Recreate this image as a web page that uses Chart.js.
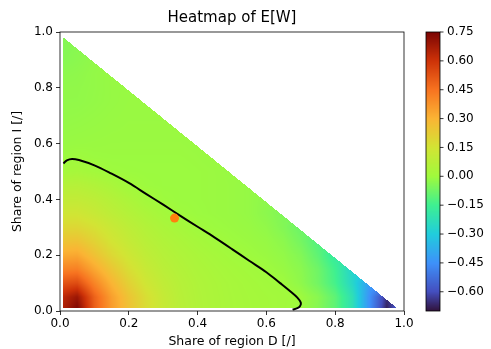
<!DOCTYPE html>
<html><head><meta charset="utf-8">
<script src="https://cdn.jsdelivr.net/npm/chart.js@4.4.0/dist/chart.umd.min.js"></script>
<style>html,body{margin:0;padding:0;background:#fff;}canvas{display:block;}</style>
</head><body>
<canvas id="c" width="491" height="349"></canvas>
<script>
// ---- data ----
const axisTicks = [0.0, 0.2, 0.4, 0.6, 0.8, 1.0];
const cbTicks = [-0.60, -0.45, -0.30, -0.15, 0.00, 0.15, 0.30, 0.45, 0.60, 0.75];
const cbMin = -0.70, cbMax = 0.75;
const domainCorners = [[0.01, 0.01], [0.98, 0.01], [0.01, 0.98]];
const gridX = [0.00,0.05,0.10,0.15,0.20,0.25,0.30,0.35,0.40,0.45,0.50,0.55,0.60,0.65,0.70,0.75,0.80,0.85,0.90,0.95,1.00];
const gridY = [0.00,0.05,0.10,0.15,0.20,0.25,0.30,0.35,0.40,0.45,0.50,0.55,0.60,0.65,0.70,0.75,0.80,0.85,0.90,0.95,1.00];
// E[W] values read along rows of constant I share (x = D share from 0 upward)
const ewY00 = [0.64,0.75,0.50,0.36,0.26,0.175,0.115,0.075,0.05,0.035,0.025,0.018,0.012,0.005,-0.006,-0.04,-0.10,-0.22,-0.45,-0.68,-0.45];
const ewY05 = [0.62,0.69,0.49,0.35,0.25,0.17,0.11,0.07,0.048,0.034,0.024,0.017,0.011,0.006,-0.002,-0.035,-0.10,-0.22,-0.45,-0.65];
const ewY10 = [0.52,0.54,0.41,0.30,0.21,0.14,0.095,0.065,0.045,0.032,0.022,0.014,0.006,-0.002,-0.025,-0.07,-0.14,-0.26,-0.42];
const ewY15 = [0.41,0.42,0.33,0.245,0.17,0.115,0.078,0.055,0.038,0.026,0.016,0.007,-0.002,-0.012,-0.032,-0.075,-0.15,-0.27];
const ewY20 = [0.32,0.33,0.26,0.19,0.135,0.092,0.064,0.045,0.03,0.018,0.006,-0.003,-0.009,-0.02,-0.045,-0.10,-0.18];
const ewY25 = [0.25,0.255,0.205,0.15,0.107,0.073,0.05,0.033,0.018,0.004,-0.004,-0.008,-0.014,-0.03,-0.065,-0.12];
const ewY30 = [0.19,0.19,0.16,0.12,0.085,0.056,0.034,0.018,0.0,-0.005,-0.008,-0.012,-0.022,-0.045,-0.08];
const ewY35 = [0.14,0.14,0.115,0.085,0.058,0.034,0.014,-0.002,-0.006,-0.008,-0.01,-0.016,-0.03,-0.05];
const ewY40 = [0.10,0.10,0.085,0.06,0.035,0.01,-0.003,-0.006,-0.007,-0.008,-0.01,-0.016,-0.028];
const ewY45 = [0.062,0.065,0.05,0.03,0.004,-0.004,-0.006,-0.006,-0.007,-0.008,-0.01,-0.016];
const ewY50 = [0.012,0.02,0.008,-0.003,-0.005,-0.006,-0.006,-0.006,-0.007,-0.008,-0.011];
const ewY55 = [-0.006,-0.002,-0.006,-0.007,-0.007,-0.007,-0.007,-0.007,-0.008,-0.01];
const ewY60 = [-0.012,-0.01,-0.009,-0.008,-0.008,-0.008,-0.008,-0.008,-0.009];
const ewY65 = [-0.016,-0.014,-0.012,-0.01,-0.009,-0.009,-0.009,-0.009];
const ewY70 = [-0.02,-0.018,-0.015,-0.012,-0.01,-0.01,-0.01];
const ewY75 = [-0.022,-0.022,-0.018,-0.014,-0.011,-0.011];
const ewY80 = [-0.024,-0.023,-0.019,-0.014,-0.012];
const ewY85 = [-0.03,-0.026,-0.019,-0.014];
const ewY90 = [-0.04,-0.032,-0.022];
const ewY95 = [-0.045,-0.036];
const ewY100 = [-0.04];
const ewGrid = [ewY00,ewY05,ewY10,ewY15,ewY20,ewY25,ewY30,ewY35,ewY40,ewY45,ewY50,ewY55,ewY60,ewY65,ewY70,ewY75,ewY80,ewY85,ewY90,ewY95,ewY100];
// zero contour (black line)
const contourX = [0.01,0.02,0.035,0.055,0.10,0.15,0.20,0.25,0.30,0.35,0.40,0.45,0.50,0.55,0.60,0.64,0.67,0.69,0.70,0.698,0.69,0.676];
const contourY = [0.529,0.540,0.545,0.541,0.522,0.492,0.459,0.420,0.381,0.341,0.302,0.263,0.222,0.180,0.139,0.100,0.070,0.048,0.030,0.018,0.010,0.005];
// equal-share marker
const markerX = [0.333];
const markerY = [0.333];

// ---- colour map (turbo-like, stops in normalised 0..1) ----
const cmapStops = [
  [0.000, [48, 18, 59]], [0.069, [68, 78, 190]], [0.172, [62, 145, 250]],
  [0.276, [32, 205, 220]], [0.379, [62, 240, 145]], [0.483, [160, 250, 60]],
  [0.586, [210, 228, 52]], [0.690, [250, 180, 52]], [0.793, [247, 115, 32]],
  [0.897, [205, 50, 8]], [1.000, [122, 4, 3]]
];
function cmap(t) {
  t = Math.min(1, Math.max(0, t));
  for (let k = 1; k < cmapStops.length; k++) {
    const [t1, c1] = cmapStops[k];
    if (t <= t1) {
      const [t0, c0] = cmapStops[k - 1];
      const f = (t - t0) / (t1 - t0);
      return [0, 1, 2].map(i => Math.round(c0[i] + f * (c1[i] - c0[i])));
    }
  }
  return cmapStops[cmapStops.length - 1][1];
}
function gridVal(i, j) { const row = ewGrid[j]; return row[Math.min(i, row.length - 1)]; }
function valueAt(x, y) {
  const dx = gridX[1] - gridX[0], dy = gridY[1] - gridY[0];
  const fx = (x - gridX[0]) / dx, fy = (y - gridY[0]) / dy;
  const i0 = Math.min(gridX.length - 2, Math.max(0, Math.floor(fx)));
  const j0 = Math.min(gridY.length - 2, Math.max(0, Math.floor(fy)));
  const tx = fx - i0, ty = fy - j0;
  return (1-tx)*(1-ty)*gridVal(i0,j0) + tx*(1-ty)*gridVal(i0+1,j0) + (1-tx)*ty*gridVal(i0,j0+1) + tx*ty*gridVal(i0+1,j0+1);
}
const xMinD = domainCorners[0][0], yMinD = domainCorners[0][1], sumMax = domainCorners[1][0] + domainCorners[1][1];

const heatmapPlugin = {
  id: 'heatmap',
  beforeDatasetsDraw(chart) {
    const {ctx, chartArea: a, scales} = chart;
    const xs = scales.x, ys = scales.y;
    const L = Math.floor(a.left), T = Math.floor(a.top);
    const W = Math.ceil(a.right) - L, H = Math.ceil(a.bottom) - T;
    const off = document.createElement('canvas'); off.width = W; off.height = H;
    const octx = off.getContext('2d'); const img = octx.createImageData(W, H);
    for (let py = 0; py < H; py++) {
      const y = ys.getValueForPixel(T + py + 0.5);
      for (let px = 0; px < W; px++) {
        const x = xs.getValueForPixel(L + px + 0.5);
        if (x < xMinD || y < yMinD || x + y > sumMax) continue;
        const v = valueAt(x, y);
        const c = cmap((v - cbMin) / (cbMax - cbMin));
        const k = (py * W + px) * 4;
        img.data[k] = c[0]; img.data[k+1] = c[1]; img.data[k+2] = c[2]; img.data[k+3] = 255;
      }
    }
    octx.putImageData(img, 0, 0);
    ctx.drawImage(off, L, T);
  },
  afterDatasetsDraw(chart) {
    const {ctx, chartArea: a} = chart;
    ctx.save();
    ctx.strokeStyle = '#000'; ctx.lineWidth = 0.8;
    ctx.strokeRect(a.left, a.top, a.right - a.left, a.bottom - a.top);
    ctx.restore();
  },
  afterDraw(chart) {
    const {ctx, chartArea: a} = chart;
    const cb = chart.scales.cb;
    const left = a.right + 22, w = 14;
    const top = Math.round(cb.getPixelForValue(cbMax)), bottom = Math.round(cb.getPixelForValue(cbMin));
    ctx.save();
    for (let py = top; py < bottom; py++) {
      const v = cb.getValueForPixel(py + 0.5);
      const c = cmap((v - cbMin) / (cbMax - cbMin));
      ctx.fillStyle = `rgb(${c[0]},${c[1]},${c[2]})`;
      ctx.fillRect(left, py, w, 1);
    }
    ctx.strokeStyle = '#000'; ctx.lineWidth = 0.8;
    ctx.strokeRect(left, top, w, bottom - top);
    ctx.beginPath();
    cbTicks.forEach(v => {
      const p = cb.getPixelForValue(v);
      ctx.moveTo(left + w, p); ctx.lineTo(left + w + 3.5, p);
    });
    ctx.stroke();
    ctx.restore();
  }
};

const FONT = 'DejaVu Sans';
const tickFont = {family: FONT, size: 12};
const labelFont = {family: FONT, size: 12.5};
const fmt1 = v => v.toFixed(1);
const fmt2 = v => (v < -1e-9 ? '\u2212' : '') + Math.abs(v).toFixed(2);

new Chart(document.getElementById('c'), {
  type: 'scatter',
  data: {
    datasets: [
      {
        label: 'equal share',
        data: markerX.map((x, i) => ({x, y: markerY[i]})),
        pointRadius: 4.5, pointBackgroundColor: '#ff7f0e', pointBorderWidth: 0, pointBorderColor: '#ff7f0e'
      },
      {
        label: 'E[W] = 0',
        data: contourX.map((x, i) => ({x, y: contourY[i]})),
        showLine: true, borderColor: '#000', borderWidth: 2, pointRadius: 0, tension: 0.35, fill: false
      }
    ]
  },
  options: {
    responsive: false, animation: false, devicePixelRatio: 1,
    layout: {padding: {top: 0, left: 0, right: 0, bottom: 0}},
    plugins: {
      legend: {display: false}, tooltip: {enabled: false},
      title: {display: true, text: 'Heatmap of E[W]', color: '#000', fullSize: false,
        font: {family: FONT, size: 15, weight: 'normal'}, padding: {top: 9, bottom: 5}}
    },
    scales: {
      x: {
        type: 'linear', min: 0, max: 1,
        afterBuildTicks: s => { s.ticks = axisTicks.map(v => ({value: v})); },
        afterFit: s => { s.height = 38; },
        ticks: {callback: fmt1, color: '#000', font: tickFont, padding: 2, maxRotation: 0, autoSkip: false},
        grid: {drawOnChartArea: false, drawTicks: true, tickLength: 4, tickColor: '#000', lineWidth: 0.8},
        border: {display: false},
        title: {display: true, text: 'Share of region D [/]', color: '#000', font: labelFont, padding: {top: 0, bottom: 0}}
      },
      y: {
        type: 'linear', min: 0, max: 1,
        afterBuildTicks: s => { s.ticks = axisTicks.map(v => ({value: v})); },
        afterFit: s => { s.width = 60; },
        ticks: {callback: fmt1, color: '#000', font: tickFont, padding: 3, autoSkip: false},
        grid: {drawOnChartArea: false, drawTicks: true, tickLength: 4, tickColor: '#000', lineWidth: 0.8},
        border: {display: false},
        title: {display: true, text: 'Share of region I [/]', color: '#000', font: labelFont, padding: {top: 10, bottom: 0}}
      },
      cb: {
        type: 'linear', position: 'right', min: cbMin, max: cbMax,
        afterBuildTicks: s => { s.ticks = cbTicks.map(v => ({value: v})); },
        afterFit: s => { s.width = 87; },
        ticks: {callback: fmt2, color: '#000', font: tickFont, padding: 3, autoSkip: false},
        grid: {display: true, drawOnChartArea: false, drawTicks: true, tickLength: 40, color: 'rgba(0,0,0,0)', tickColor: 'rgba(0,0,0,0)'},
        border: {display: false}
      }
    }
  },
  plugins: [heatmapPlugin]
});
</script>
</body></html>
